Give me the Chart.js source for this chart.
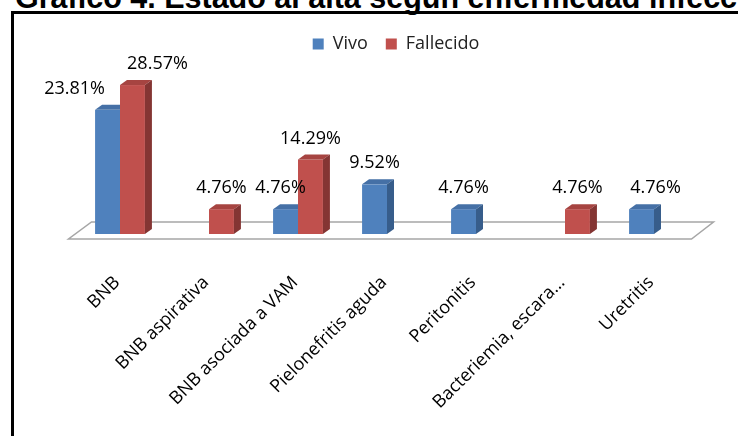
<!DOCTYPE html>
<html>
<head>
<meta charset="utf-8">
<script src="https://cdn.jsdelivr.net/npm/chart.js@4/dist/chart.umd.min.js"></script>
<style>
  html, body { margin: 0; padding: 0; background: #fff; }
  body { width: 738px; height: 436px; position: relative; overflow: hidden; }
  #title {
    position: absolute; left: 15px; top: -18px;
    font: bold 30.5px "Liberation Sans", Arial, sans-serif; line-height: 31px;
    white-space: nowrap; color: #000;
  }
  #frame {
    position: absolute; left: 11px; top: 11px; width: 900px; height: 600px;
    border: 3px solid #000;
  }
  #wrap { position: absolute; left: 0; top: 0; width: 738px; height: 436px; }
</style>
</head>
<body>
<div id="title">Gráfico 4. Estado al alta según enfermedad infecciosa</div>
<div id="frame"></div>
<div id="wrap"><canvas id="chart"></canvas></div>
<script>
// data (percent of patients)
const categories = ['BNB', 'BNB aspirativa', 'BNB asociada a VAM', 'Pielonefritis aguda',
                    'Peritonitis', 'Bacteriemia, escara…', 'Uretritis'];
const vivo = [23.81, 0, 4.76, 9.52, 4.76, 0, 4.76];
const fallecido = [28.57, 4.76, 14.29, 0, 0, 4.76, 0];
const seriesNames = ['Vivo', 'Fallecido'];

// 3d look: front / top / side colours
const palettes = [
    { front: '#4f81bd', top: '#4570a6', side: '#375d8b' },
    { front: '#c0504d', top: '#a64441', side: '#843533' }
];
const DX = 7, DY = 5;
// small horizontal nudges of the value labels, like the original
const labelNudge = [
    [-33, 0, -5, 0, 0, 0, 14],
    [25, 0, 0, 0, 0, 0, 0]
];

const bars3d = {
    id: 'bars3d',
    beforeDatasetsDraw(chart) {
        const ctx = chart.ctx;
        const area = chart.chartArea;
        const zeroY = chart.scales.y.getPixelForValue(0);

        // floor
        ctx.save();
        ctx.beginPath();
        ctx.moveTo(area.left - 7, zeroY + 5);
        ctx.lineTo(area.right - 7, zeroY + 5);
        ctx.lineTo(area.right + 15, zeroY - 12);
        ctx.lineTo(area.left + 16, zeroY - 12);
        ctx.closePath();
        ctx.fillStyle = '#fff';
        ctx.fill();
        ctx.strokeStyle = '#a6a6a6';
        ctx.lineWidth = 1.5;
        ctx.stroke();

        // bars, category by category so the red one covers the blue side
        categories.forEach((c, i) => {
            chart.data.datasets.forEach((ds, d) => {
                if (!ds.data[i]) return;
                const bar = chart.getDatasetMeta(d).data[i];
                const { x, y, base, width } = bar.getProps(['x', 'y', 'base', 'width'], true);
                const l = x - width / 2, r = x + width / 2;
                const pal = palettes[d];

                ctx.fillStyle = pal.front;
                ctx.fillRect(l, y, width, base - y);

                ctx.beginPath();
                ctx.moveTo(l, y);
                ctx.lineTo(l + DX, y - DY);
                ctx.lineTo(r + DX, y - DY);
                ctx.lineTo(r, y);
                ctx.closePath();
                ctx.fillStyle = pal.top;
                ctx.fill();

                ctx.beginPath();
                ctx.moveTo(r, y);
                ctx.lineTo(r + DX, y - DY);
                ctx.lineTo(r + DX, base - DY);
                ctx.lineTo(r, base);
                ctx.closePath();
                ctx.fillStyle = pal.side;
                ctx.fill();
            });
        });
        ctx.restore();
        return false;
    },
    afterDraw(chart) {
        const ctx = chart.ctx;
        ctx.save();
        ctx.font = '18px "Open Sans"';
        ctx.fillStyle = '#000';
        ctx.textAlign = 'center';
        ctx.textBaseline = 'alphabetic';
        chart.data.datasets.forEach((ds, d) => {
            ds.data.forEach((v, i) => {
                if (!v) return;
                const bar = chart.getDatasetMeta(d).data[i];
                ctx.fillText(v.toFixed(2) + '%', bar.x + labelNudge[d][i], bar.y - DY - 11);
            });
        });
        ctx.restore();
    }
};

new Chart(document.getElementById('chart'), {
    type: 'bar',
    data: {
        labels: categories,
        datasets: [{
            label: seriesNames[0],
            data: vivo,
            backgroundColor: palettes[0].front
        }, {
            label: seriesNames[1],
            data: fallecido,
            backgroundColor: palettes[1].front
        }]
    },
    options: {
        responsive: true,
        maintainAspectRatio: false,
        animation: false,
        categoryPercentage: 0.56,
        barPercentage: 1,
        layout: {
            padding: { left: 75.5, right: 21.5, top: 17, bottom: 0 }
        },
        plugins: {
            legend: {
                position: 'top',
                labels: {
                    boxWidth: 11,
                    boxHeight: 11,
                    padding: 18,
                    color: '#222',
                    font: { family: 'Open Sans', size: 18 }
                }
            },
            tooltip: { enabled: false }
        },
        scales: {
            x: {
                grid: { display: false, drawTicks: false },
                border: { display: false },
                ticks: {
                    autoSkip: false,
                    minRotation: 45,
                    maxRotation: 45,
                    padding: 38,
                    labelOffset: -3,
                    color: '#000',
                    font: { family: 'Open Sans', size: 18 }
                },
                afterFit(s) { s.height = 202; }
            },
            y: {
                position: 'right',
                min: 0,
                max: 32.8,
                grid: { display: false },
                border: { display: false },
                ticks: { display: false },
                afterFit(s) { s.width = 18; }
            }
        }
    },
    plugins: [bars3d]
});
</script>
</body>
</html>
